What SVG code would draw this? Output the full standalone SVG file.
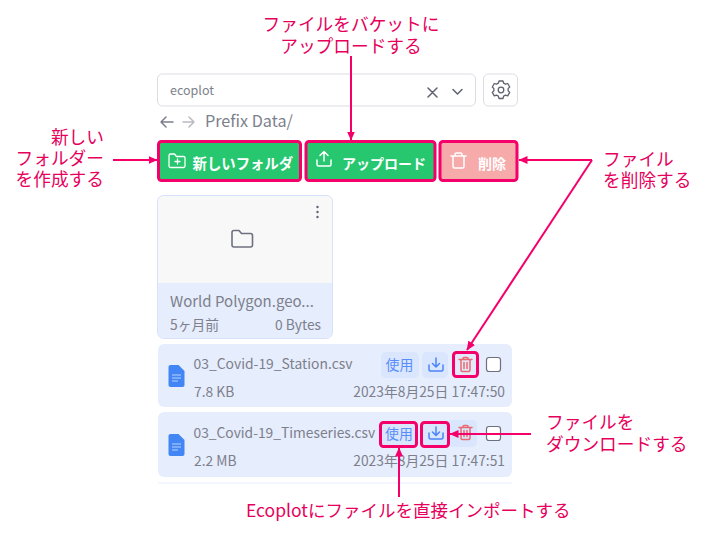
<svg xmlns="http://www.w3.org/2000/svg" width="708" height="537" viewBox="0 0 708 537">
<style>
text{font-family:"Noto Sans CJK JP","Noto Sans",sans-serif}
.ann{font-family:"Liberation Sans","Noto Sans CJK JP",sans-serif;font-size:17.7px;fill:#e6005c}
.eco{font-family:"Noto Sans CJK JP",sans-serif;font-size:17.5px;fill:#e6005c}
.gray{fill:#7d7f8c;font-size:13.8px}
.hl{fill:none;stroke:#f5006a;stroke-width:3}
.conn{fill:none;stroke:#f5006a;stroke-width:2}
.ico{fill:none;stroke-linecap:round;stroke-linejoin:round}
.row{fill:#e6edfc}
.btn{fill:#d9e6fd}
.w{fill:#fff;font-weight:700;font-size:14px}
</style>
<defs>
<marker id="a" markerWidth="10" markerHeight="8" refX="8.500" refY="4" orient="auto" markerUnits="userSpaceOnUse"><path d="M0 0L9 4L0 8Z" fill="#f5006a"/></marker>
</defs>
<rect width="708" height="537" fill="#fff"/>
<g id="toolbar">
<rect x="157.500" y="74" width="318" height="32" rx="5" fill="#fff" stroke="#dcdde3"/>
<text x="170" y="95" font-size="12.500" fill="#7d7f8c">ecoplot</text>
<path class="ico" stroke="#5f6170" stroke-width="1.500" d="M428 88l9 9M437 88l-9 9M453 89.500l4.500 4.500 4.500-4.500"/>
<rect x="483.500" y="74" width="34" height="32" rx="5" fill="#fff" stroke="#dcdde3"/>
<circle cx="501" cy="90" r="2.800" class="ico" stroke="#5f6170" stroke-width="1.300"/>
<path class="ico" stroke="#5f6170" stroke-width="1.300" d="M499 81h4l.6 2.200 1.900 1 2.200-.7 2 3.500-1.600 1.600v2.200l1.600 1.600-2 3.500-2.200-.7-1.900 1-.6 2.300h-4l-.6-2.300-1.900-1-2.200.7-2-3.500 1.600-1.600v-2.200l-1.600-1.600 2-3.500 2.200.7 1.900-1z"/>
<path class="ico" stroke="#7d7f8c" stroke-width="1.500" d="M173 122h-12M166 117l-5 5 5 5"/>
<path class="ico" stroke="#b9bac2" stroke-width="1.500" d="M183 122h11M189 117l5 5-5 5"/>
<text x="205" y="127" font-size="16.200" fill="#7d7f8c">Prefix Data/</text>
</g>
<g id="btn-new-folder">
<rect x="158.500" y="141.500" width="142" height="39" rx="3" class="hl" style="fill:#26c76f"/>
<path class="ico" stroke="#fff" stroke-width="1.300" d="M169 155.500a1.500 1.500 0 0 1 1.500-1.500h4l2 2.500h7a1.500 1.500 0 0 1 1.500 1.500v8a1.500 1.500 0 0 1-1.500 1.500h-13a1.500 1.500 0 0 1-1.500-1.500zM177.500 159v5M175 161.500h5"/>
<text x="192.500" y="169" class="w" style="font-size:14.400px">新しいフォルダ</text>
</g>
<g id="btn-upload">
<rect x="306" y="141.500" width="129" height="39" rx="3" class="hl" style="fill:#26c76f"/>
<path class="ico" stroke="#fff" stroke-width="1.500" d="M317 160v4.500a1.500 1.500 0 0 0 1.500 1.500h11a1.500 1.500 0 0 0 1.500-1.500V160M324 161v-9.500M320 155.500l4-4 4 4"/>
<text x="342" y="169" class="w">アップロード</text>
</g>
<g id="btn-delete">
<rect x="440" y="141.500" width="77" height="39" rx="3" class="hl" style="fill:#f6aaaa"/>
<path class="ico" stroke="#fff" stroke-width="1.500" d="M451 156h15M453 156v10.500a1.500 1.500 0 0 0 1.500 1.500h8a1.500 1.500 0 0 0 1.500-1.500V156M455 156v-1.500a1.500 1.500 0 0 1 1.500-1.500h4a1.500 1.500 0 0 1 1.500 1.500v1.500"/>
<text x="478" y="169" class="w">削除</text>
</g>
<g id="folder-card">
<rect x="157.500" y="195.500" width="175" height="143" rx="6" fill="#f8f8f9" stroke="#d6e2fb"/>
<path d="M158 283h174v49.500a5.500 5.500 0 0 1-5.500 5.500h-163a5.500 5.500 0 0 1-5.500-5.500z" fill="#e6edfc"/>
<circle cx="317.500" cy="207" r="1.200" fill="#5f6170"/><circle cx="317.500" cy="212" r="1.200" fill="#5f6170"/><circle cx="317.500" cy="217" r="1.200" fill="#5f6170"/>
<path class="ico" stroke="#6e7080" stroke-width="1.600" d="M232 232.500a2 2 0 0 1 2-2h5l2.500 3h9a2 2 0 0 1 2 2V245a2 2 0 0 1-2 2h-16.500a2 2 0 0 1-2-2z"/>
<text x="170" y="307" font-size="15" fill="#7d7f8c">World Polygon.geo...</text>
<text x="170" y="330" class="gray">5ヶ月前</text>
<text x="321" y="330" class="gray" text-anchor="end">0 Bytes</text>
</g>
<g id="file-station">
<rect x="158" y="344" width="354" height="63" rx="6" class="row"/>
<path d="M168.500 367a2 2 0 0 1 2-2h8l6 6v14a2 2 0 0 1-2 2h-12a2 2 0 0 1-2-2z" fill="#4285f4"/>
<path d="M172 375h9M172 378h9M172 381h6" stroke="#bcd3fb" stroke-width="1.200"/>
<text x="193.500" y="368.500" font-size="13.900" fill="#7d7f8c">03_Covid-19_Station.csv</text>
<text x="194" y="396.500" class="gray">7.8 KB</text>
<rect x="381" y="352" width="38" height="26" rx="5" class="btn"/>
<text x="399.500" y="370" font-size="13.900" fill="#5a8dfa" text-anchor="middle">使用</text>
<rect x="422" y="352" width="26" height="26" rx="5" class="btn"/>
<path class="ico" stroke="#4a84f8" stroke-width="1.500" d="M429 365v4.500a1.500 1.500 0 0 0 1.500 1.500h11a1.500 1.500 0 0 0 1.500-1.500V365M436 358v9M432.500 363.500l3.500 3.500 3.500-3.500"/>
<rect x="453.500" y="352.500" width="24" height="24" rx="3" class="hl" style="fill:#e3e9fb"/>
<path class="ico" stroke="#e8696f" stroke-width="1.500" d="M459 359.500h13M461 359.500v10.500a1.500 1.500 0 0 0 1.500 1.500h6a1.500 1.500 0 0 0 1.500-1.500v-10.500M463 359.500v-1a1 1 0 0 1 1-1h3a1 1 0 0 1 1 1v1M464 362.500v6M467 362.500v6"/>
<rect x="486.500" y="357.500" width="14" height="14" rx="2.500" fill="#fff" stroke="#6e7080" stroke-width="1.200"/>
<text x="505" y="396.500" class="gray" text-anchor="end">2023年8月25日 17:47:50</text>
</g>
<g id="file-timeseries">
<rect x="158" y="412" width="354" height="65" rx="6" class="row"/>
<path d="M168.500 436a2 2 0 0 1 2-2h8l6 6v14a2 2 0 0 1-2 2h-12a2 2 0 0 1-2-2z" fill="#4285f4"/>
<path d="M172 444h9M172 447h9M172 450h6" stroke="#bcd3fb" stroke-width="1.200"/>
<text x="193.500" y="437.500" font-size="13.800" fill="#7d7f8c">03_Covid-19_Timeseries.csv</text>
<text x="194" y="465.500" class="gray">2.2 MB</text>
<rect x="446" y="420" width="31" height="27" rx="5" class="btn"/>
<path class="ico" stroke="#e8696f" stroke-width="1.500" d="M459 427.500h13M461 427.500v10.500a1.500 1.500 0 0 0 1.500 1.500h6a1.500 1.500 0 0 0 1.500-1.500v-10.500M463 427.500v-1a1 1 0 0 1 1-1h3a1 1 0 0 1 1 1v1M464 430.500v6M467 430.500v6"/>
<rect x="380.500" y="422.500" width="36" height="24" rx="3" class="hl" style="fill:#d9e6fd"/>
<text x="399" y="439" font-size="13.900" fill="#5a8dfa" text-anchor="middle">使用</text>
<rect x="421.500" y="422.500" width="27" height="24" rx="3" class="hl" style="fill:#d9e6fd"/>
<path class="ico" stroke="#4a84f8" stroke-width="1.500" d="M429 433v4.500a1.500 1.500 0 0 0 1.500 1.500h11a1.500 1.500 0 0 0 1.500-1.500V433M436 427v8M432.500 432l3.500 3.500 3.500-3.500"/>
<rect x="486.500" y="426.500" width="14" height="14" rx="2.500" fill="#fff" stroke="#6e7080" stroke-width="1.200"/>
<text x="505" y="465.500" class="gray" text-anchor="end">2023年8月25日 17:47:51</text>
<rect x="158" y="482" width="354" height="2" fill="#f3f6fe"/>
</g>
<g id="connectors">
<path class="conn" marker-end="url(#a)" d="M351 56V140"/>
<path class="conn" marker-end="url(#a)" d="M113 160H157"/>
<path class="conn" marker-end="url(#a)" d="M592 160H519"/>
<path class="conn" marker-end="url(#a)" d="M592 160L467 350"/>
<path class="conn" marker-end="url(#a)" d="M531 434H450"/>
<path class="conn" marker-end="url(#a)" d="M399 497V448"/>
</g>
<g id="labels">
<text class="ann" text-anchor="middle" x="351" y="31">ファイルをバケットに</text>
<text class="ann" text-anchor="middle" x="351" y="53">アップロードする</text>
<text class="ann" text-anchor="end" x="104" y="144">新しい</text>
<text class="ann" text-anchor="end" x="104" y="165">フォルダー</text>
<text class="ann" text-anchor="end" x="104" y="186">を作成する</text>
<text class="ann" x="603" y="166">ファイル</text>
<text class="ann" x="603" y="187">を削除する</text>
<text class="ann" x="546" y="429">ファイルを</text>
<text class="ann" x="546" y="451">ダウンロードする</text>
<text class="eco" x="246" y="517">Ecoplotにファイルを直接インポートする</text>
</g>
</svg>
